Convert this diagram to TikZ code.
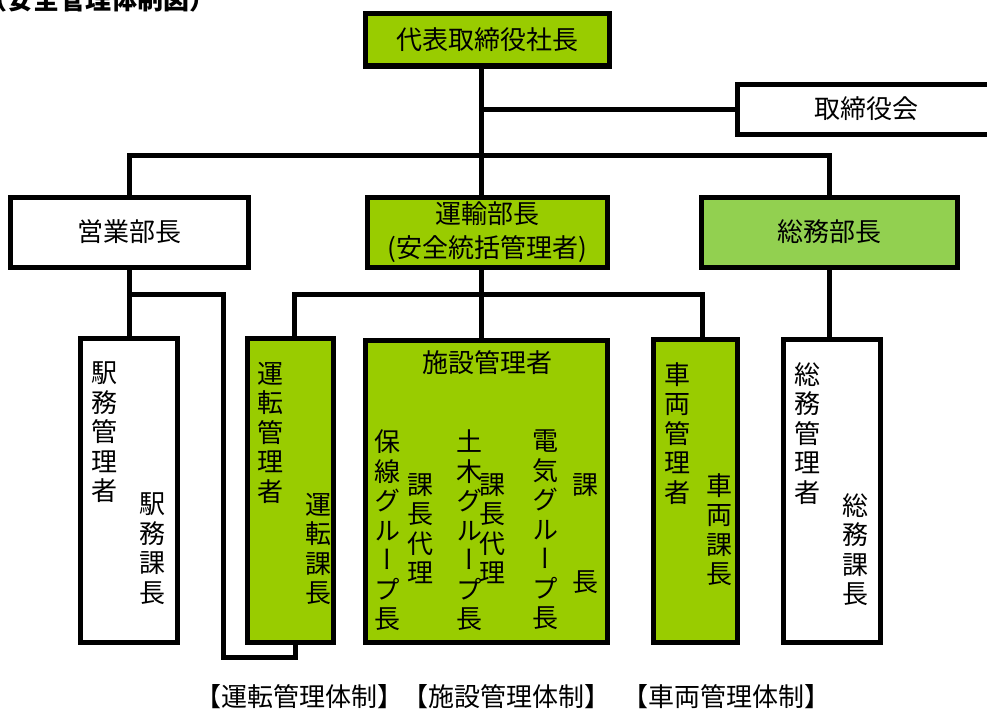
\documentclass[tikz,border=0pt]{standalone}
\usepackage{fontspec}
\newfontfamily\cjk{Noto Sans CJK JP}
\newfontfamily\cjkv[RawFeature=+vert]{Noto Sans CJK JP}
\definecolor{leaf}{HTML}{99CC00}
\definecolor{lime}{HTML}{92D050}
\begin{document}
\begin{tikzpicture}[x=1pt,y=-1pt,
    box/.style={draw,line width=5pt,inner sep=0pt,align=center,
      font=\cjk\fontsize{26}{34}\selectfont},
    col/.style={inner sep=0pt,anchor=north,align=center,
      font=\cjkv\fontsize{26}{29.5}\selectfont},
    link/.style={line width=5pt},
    tag/.style={inner sep=0pt,font=\cjk\fontsize{26}{30}\selectfont}]
  \useasboundingbox (0,0) rectangle (987,709);
  % title, cut by the top edge
  \node[anchor=base west,inner sep=0pt,font=\cjk\bfseries\fontsize{26}{30}\selectfont]
    (title) at (-19,10) {（安全管理体制図）};
  % upper boxes
  \node[box,fill=leaf,minimum width=244,minimum height=52] (ceo) at (487,40) {代表取締役社長};
  \node[box,fill=white,minimum width=258,minimum height=50] (board) at (866,109) {取締役会};
  \node[box,fill=white,minimum width=238,minimum height=70] (eigyo) at (129,232) {営業部長};
  \node[box,fill=leaf,minimum width=240,minimum height=70] (unyu) at (487,232) {運輸部長\\(安全統括管理者)};
  \node[box,fill=lime,minimum width=256,minimum height=70] (somu) at (829,232) {総務部長};
  % lower boxes
  \node[box,fill=white,minimum width=97,minimum height=304] (ekimu) at (128.5,490) {};
  \node[box,fill=leaf,minimum width=86,minimum height=304] (unten) at (290,490) {};
  \node[box,fill=leaf,minimum width=242,minimum height=302] (shisetsu) at (486,491) {};
  \node[box,fill=leaf,minimum width=84,minimum height=303] (sharyo) at (695,490.5) {};
  \node[box,fill=white,minimum width=97,minimum height=303] (somukan) at (831.5,490.5) {};
  % texts in the lower boxes
  \node[col] (ekimu1) at (104,362) {駅\\務\\管\\理\\者};
  \node[col] (ekimu2) at (152,493) {駅\\務\\課\\長};
  \node[col] (unten1) at (270,362) {運\\転\\管\\理\\者};
  \node[col] (unten2) at (318,493) {運\\転\\課\\長};
  \node[tag] (shisetsu0) at (487,363) {施設管理者};
  \node[col] (hosen1) at (387,430) {保\\線\\グ\\ル\\ー\\プ\\長};
  \node[col] (hosen2) at (420,473) {課\\長\\代\\理};
  \node[col] (doboku1) at (469,430) {土\\木\\グ\\ル\\ー\\プ\\長};
  \node[col] (doboku2) at (492,473) {課\\長\\代\\理};
  \node[col] (denki1) at (545,430) {電\\気\\グ\\ル\\ー\\プ\\長};
  \node[col] (denki2) at (585,473) {課\\[67.5pt]長};
  \node[col] (sharyo1) at (677,362) {車\\両\\管\\理\\者};
  \node[col] (sharyo2) at (719,473) {車\\両\\課\\長};
  \node[col] (somukan1) at (807,362) {総\\務\\管\\理\\者};
  \node[col] (somukan2) at (855,493) {総\\務\\課\\長};
  % labels under the boxes
  \node[tag] (tag1) at (299,697) {【運転管理体制】};
  \node[tag] (tag2) at (506,697) {【施設管理体制】};
  \node[tag] (tag3) at (726,697) {【車両管理体制】};
  % connectors
  \coordinate (trunk) at (481,0);
  \coordinate (bar) at (0,155);
  \coordinate (bar2) at (0,294);
  \coordinate (loop) at (223,657);
  \coordinate (untentop) at (294,0);
  \coordinate (sharyotop) at (702,0);
  \coordinate (untenfoot) at (295,0);
  \draw[link] (ceo.south -| trunk) -- (unyu.north -| trunk);
  \draw[link] (board.west) -- (board.west -| trunk);
  \draw[link] (eigyo.north) -- (eigyo.north |- bar) -- (somu.north |- bar) -- (somu.north);
  \draw[link] (unyu.south -| trunk) -- (shisetsu.north -| trunk);
  \draw[link] (unten.north -| untentop) -- (bar2 -| untentop) -- (bar2 -| sharyotop)
    -- (sharyo.north -| sharyotop);
  \draw[link] (eigyo.south) -- (eigyo.south |- ekimu.north);
  \draw[link] (eigyo.south |- bar2) -| (loop) -| (unten.south -| untenfoot);
  \draw[link] (somu.south) -- (somu.south |- somukan.north);
\end{tikzpicture}
\end{document}
